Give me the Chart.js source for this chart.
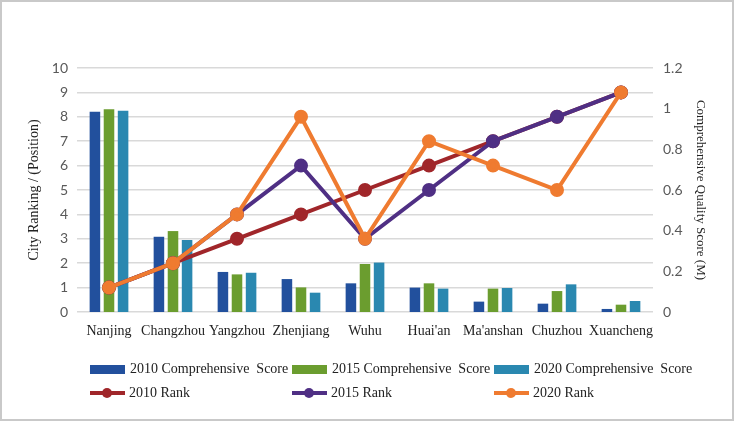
<!DOCTYPE html>
<html>
<head>
<meta charset="utf-8">
<script src="https://cdn.jsdelivr.net/npm/chart.js@4"></script>
<style>
  body { margin: 0; background: #fff; }
  .wrap { position: relative; width: 734px; height: 421px; }
  .frame { position: absolute; left: 0; top: 0; width: 734px; height: 421px; box-sizing: border-box; border: 2px solid #c9c9c9; pointer-events: none; }
  .legenda { position: absolute; left: 0; top: 0; font-family: "Liberation Serif", serif; font-size: 14px; color: #222; }
  .item { position: absolute; display: flex; align-items: center; height: 20px; white-space: pre; }
  .caja { width: 35px; height: 9px; margin-right: 5px; }
  .linea { position: relative; width: 35px; height: 4px; margin-right: 4px; }
  .linea span { position: absolute; left: 12px; top: -3px; width: 10px; height: 10px; border-radius: 50%; }
</style>
</head>
<body>
<div class="wrap">
  <canvas class="grafico" width="734" height="421"></canvas>
  <div class="legenda"></div>
  <div class="frame"></div>
</div>
<script>
const canvas = document.querySelector('.grafico');
const legenda = document.querySelector('.legenda');

const ciudades = ["Nanjing", "Changzhou", "Yangzhou", "Zhenjiang", "Wuhu", "Huai'an", "Ma'anshan", "Chuzhou", "Xuancheng"];

// puntaje compuesto (eje derecho, M)
const score2010 = [0.985, 0.37, 0.197, 0.162, 0.141, 0.12, 0.051, 0.041, 0.015];
const score2015 = [0.997, 0.398, 0.185, 0.121, 0.236, 0.141, 0.115, 0.103, 0.036];
const score2020 = [0.99, 0.354, 0.193, 0.095, 0.243, 0.115, 0.118, 0.136, 0.054];

// ranking (eje izquierdo)
const rank2010 = [1, 2, 3, 4, 5, 6, 7, 8, 9];
const rank2015 = [1, 2, 4, 6, 3, 5, 7, 8, 9];
const rank2020 = [1, 2, 4, 8, 3, 7, 6, 5, 9];

const ticksIzq = [0, 1, 2, 3, 4, 5, 6, 7, 8, 9, 10];
const ticksDer = [0, 0.2, 0.4, 0.6, 0.8, 1, 1.2];

const barra = (label, data, color, order) => ({
    type: "bar", label, data, backgroundColor: color, yAxisID: "y1", order,
    barPercentage: 0.75, categoryPercentage: 0.66
});
const linea = (label, data, color, order) => ({
    type: "line", label, data, borderColor: color, backgroundColor: color, yAxisID: "y", order,
    borderWidth: 4, pointRadius: 5, pointHoverRadius: 5, tension: 0
});

// order: las lineas encima, naranja arriba de todo
const datasets = [
    barra("2010 Comprehensive  Score", score2010, "#22509d", 3),
    barra("2015 Comprehensive  Score", score2015, "#6b9d2f", 4),
    barra("2020 Comprehensive  Score", score2020, "#2a88b0", 5),
    linea("2010 Rank", rank2010, "#a0262a", 2),
    linea("2015 Rank", rank2015, "#4f2f84", 1),
    linea("2020 Rank", rank2020, "#ef7b30", 0)
];

const fuenteTick = { family: "Lato", size: 14 };

const config = {
    type: "bar",
    data: { labels: ciudades, datasets },
    options: {
        responsive: false,
        animation: false,
        layout: { padding: { top: 68, left: 0, right: 0, bottom: 0 } },
        plugins: { legend: { display: false }, tooltip: { enabled: false } },
        scales: {
            x: {
                grid: { display: false, drawTicks: false },
                border: { display: false },
                ticks: { font: { family: "Liberation Serif", size: 14 }, color: "#222", padding: 11, maxRotation: 0, autoSkip: false },
                afterFit: (s) => { s.height = 109; }
            },
            y: {
                position: "left",
                min: 0, max: 10,
                afterBuildTicks: (s) => { s.ticks = ticksIzq.map(v => ({ value: v })); },
                grid: { color: "#d9d9d9", lineWidth: 1.5, drawTicks: false },
                border: { display: false },
                ticks: { font: fuenteTick, color: "#595959", padding: 9 },
                title: { display: true, text: "City Ranking / (Position)", font: { family: "Liberation Serif", size: 14 }, color: "#222", padding: { top: 26, bottom: 0 } },
                afterFit: (s) => { s.width = 77; }
            },
            y1: {
                position: "right",
                min: 0, max: 1.2,
                afterBuildTicks: (s) => { s.ticks = ticksDer.map(v => ({ value: v })); },
                grid: { display: false, drawTicks: false },
                border: { display: false },
                ticks: { font: fuenteTick, color: "#595959", padding: 10, callback: (v) => String(Math.round(v * 10) / 10) },
                title: { display: true, text: "Comprehensive Quality Score (M)", font: { family: "Liberation Serif", size: 13 }, color: "#222", padding: { top: 26, bottom: 0 } },
                afterFit: (s) => { s.width = 81; }
            }
        }
    }
};

const myChart = new Chart(canvas, config);

// leyenda en dos filas, tres columnas
const columnas = [90, 292, 494];
const filas = [359, 383];
datasets.forEach((ds, i) => {
    const item = document.createElement('div');
    item.className = 'item';
    item.style.left = columnas[i % 3] + 'px';
    item.style.top = filas[Math.floor(i / 3)] + 'px';
    if (ds.type === "bar") {
        item.innerHTML = `<div class="caja" style="background:${ds.backgroundColor}"></div>${ds.label}`;
    } else {
        item.innerHTML = `<div class="linea" style="background:${ds.borderColor}"><span style="background:${ds.borderColor}"></span></div>${ds.label}`;
    }
    legenda.appendChild(item);
});
</script>
</body>
</html>
